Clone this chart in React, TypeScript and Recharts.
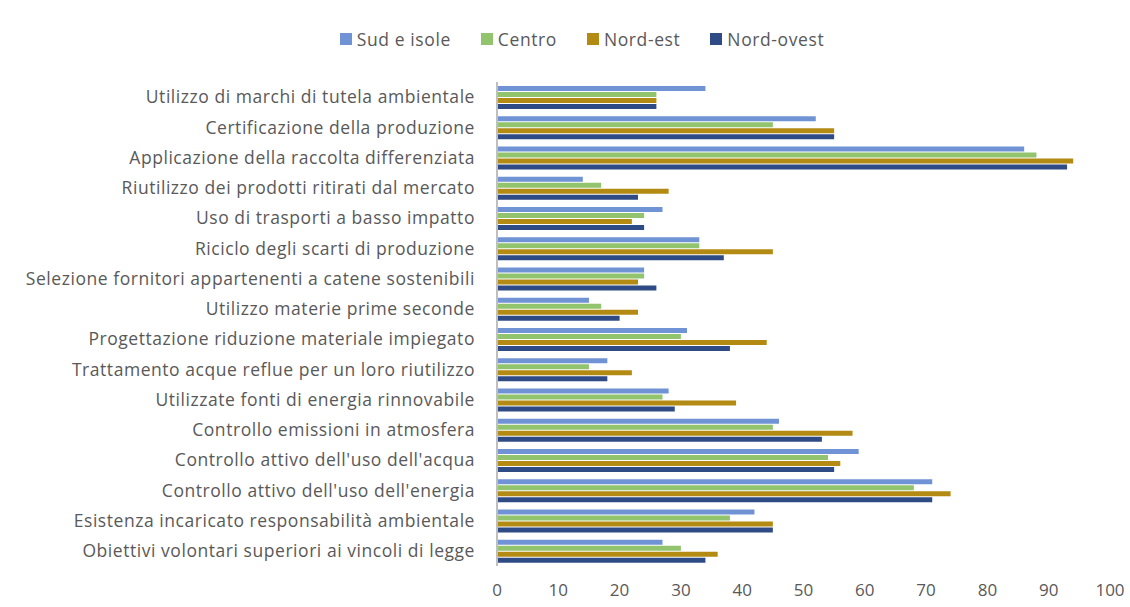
import { Bar, BarChart, Legend, XAxis, YAxis } from 'recharts'

const categories = [
  'Utilizzo di marchi di tutela ambientale',
  'Certificazione della produzione',
  'Applicazione della raccolta differenziata',
  'Riutilizzo dei prodotti ritirati dal mercato',
  'Uso di trasporti a basso impatto',
  'Riciclo degli scarti di produzione',
  'Selezione fornitori appartenenti a catene sostenibili',
  'Utilizzo materie prime seconde',
  'Progettazione riduzione materiale impiegato ',
  'Trattamento acque reflue per un loro riutilizzo',
  'Utilizzate fonti di energia rinnovabile',
  'Controllo emissioni in atmosfera ',
  "Controllo attivo dell'uso dell'acqua",
  "Controllo attivo dell'uso dell'energia ",
  'Esistenza incaricato responsabilità ambientale',
  'Obiettivi volontari superiori ai vincoli di legge',
]

const sudIsole = [34, 52, 86, 14, 27, 33, 24, 15, 31, 18, 28, 46, 59, 71, 42, 27]
const centro = [26, 45, 88, 17, 24, 33, 24, 17, 30, 15, 27, 45, 54, 68, 38, 30]
const nordEst = [26, 55, 94, 28, 22, 45, 23, 23, 44, 22, 39, 58, 56, 74, 45, 36]
const nordOvest = [26, 55, 93, 23, 24, 37, 26, 20, 38, 18, 29, 53, 55, 71, 45, 34]

const xTicks = [0, 10, 20, 30, 40, 50, 60, 70, 80, 90, 100]

const seriesList = [
  { key: 'sud', name: 'Sud e isole', color: '#6f93d4' },
  { key: 'centro', name: 'Centro', color: '#92c46e' },
  { key: 'nordEst', name: 'Nord-est', color: '#b38a12' },
  { key: 'nordOvest', name: 'Nord-ovest', color: '#2f4b85' },
]

const rows = categories.map((name, i) => ({
  name,
  sud: sudIsole[i],
  centro: centro[i],
  nordEst: nordEst[i],
  nordOvest: nordOvest[i],
}))

const font = '"Open Sans", sans-serif'
const textGray = '#595959'

// fixed order legend (recharts sorts items by name otherwise)
function TopLegend() {
  return (
    <div
      style={{
        display: 'flex',
        justifyContent: 'center',
        gap: 30,
        fontFamily: font,
        fontSize: 17.5,
        letterSpacing: 0.6,
        color: textGray,
      }}
    >
      {seriesList.map((s) => (
        <div key={s.key} style={{ display: 'flex', alignItems: 'center', gap: 5 }}>
          <span style={{ display: 'inline-block', width: 12, height: 12, background: s.color }} />
          <span>{s.name}</span>
        </div>
      ))}
    </div>
  )
}

export default function App() {
  return (
    <div style={{ position: 'absolute', left: 0, top: 0, width: 1130, height: 607, background: '#fff' }}>
      <BarChart
        width={1130}
        height={607}
        data={rows}
        layout="vertical"
        margin={{ top: 58, right: 20, left: 0, bottom: 0 }}
        barSize={5}
        barGap={1}
        style={{ fontFamily: font }}
      >
        <XAxis
          type="number"
          domain={[0, 100]}
          ticks={xTicks}
          axisLine={false}
          tickLine={false}
          height={41}
          tickMargin={12}
          tick={{ fontSize: 17, fill: textGray }}
        />
        <YAxis
          type="category"
          dataKey="name"
          width={497}
          axisLine={{ stroke: '#bfbfbf', strokeWidth: 2 }}
          tickLine={false}
          tickMargin={16}
          interval={0}
          tick={{ fontSize: 17.5, fill: textGray, letterSpacing: 0.55 }}
        />
        <Legend verticalAlign="top" content={<TopLegend />} wrapperStyle={{ top: 27, left: 0, width: 1164 }} />
        {seriesList.map((s) => (
          <Bar key={s.key} dataKey={s.key} name={s.name} fill={s.color} isAnimationActive={false} />
        ))}
      </BarChart>
    </div>
  )
}
